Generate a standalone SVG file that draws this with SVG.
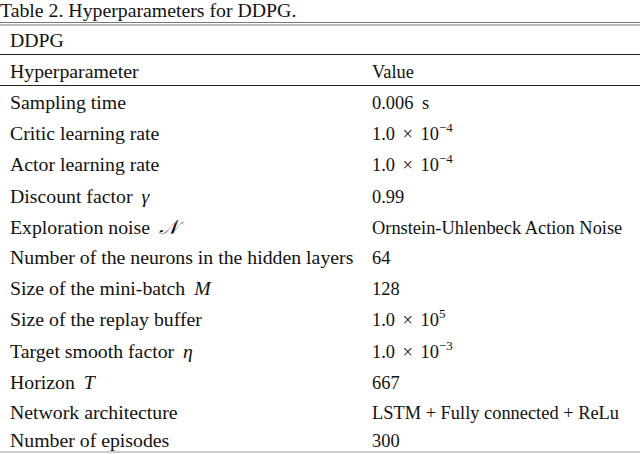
<svg xmlns="http://www.w3.org/2000/svg" width="640" height="454" viewBox="0 0 640 454">
<style>
text{font-family:"Liberation Serif","Times New Roman",serif;font-size:19.8px;fill:#111}
.v{font-size:18.4px}
.m{font-style:italic}
line{stroke:#222}
</style>
<rect width="640" height="454" fill="#fff"/>
<g id="rules">
<line x1="0" y1="22.5" x2="640" y2="22.5" stroke-width="1.2" style="stroke:#777"/>
<line x1="0" y1="25" x2="640" y2="25" stroke-width="1.2" style="stroke:#777"/>
<line x1="0" y1="54.5" x2="640" y2="54.5" stroke-width="1"/>
<line x1="0" y1="85.5" x2="640" y2="85.5" stroke-width="1"/>
<line x1="0" y1="452" x2="640" y2="452" stroke-width="1" style="stroke:#999"/>
</g>
<g id="title"><text x="0" y="17">Table 2. Hyperparameters for DDPG.</text></g>
<g id="header">
<text x="10" y="47">DDPG</text>
<text x="10" y="78">Hyperparameter</text>
<text class="v" x="372" y="78">Value</text>
</g>
<g id="rows">
<text x="10" y="109">Sampling time</text><text class="v" x="372" y="109">0.006 <tspan dx="4">s</tspan></text>
<text x="10" y="140">Critic learning rate</text><text class="v" x="372" y="140">1.0 <tspan dx="3">×</tspan> <tspan dx="3">10</tspan><tspan dy="-8" font-size="13">−4</tspan></text>
<text x="10" y="171">Actor learning rate</text><text class="v" x="372" y="171">1.0 <tspan dx="3">×</tspan> <tspan dx="3">10</tspan><tspan dy="-8" font-size="13">−4</tspan></text>
<text x="10" y="203">Discount factor <tspan class="m" dx="4">γ</tspan></text><text class="v" x="372" y="203">0.99</text>
<text x="10" y="234">Exploration noise <tspan class="m" dx="4">𝒩</tspan></text><text class="v" x="372" y="234">Ornstein-Uhlenbeck Action Noise</text>
<text x="10" y="264">Number of the neurons in the hidden layers</text><text class="v" x="372" y="264">64</text>
<text x="10" y="295">Size of the mini-batch <tspan class="m" dx="4">M</tspan></text><text class="v" x="372" y="295">128</text>
<text x="10" y="326">Size of the replay buffer</text><text class="v" x="372" y="326">1.0 <tspan dx="3">×</tspan> <tspan dx="3">10</tspan><tspan dy="-8" font-size="13">5</tspan></text>
<text x="10" y="358">Target smooth factor <tspan class="m" dx="4">η</tspan></text><text class="v" x="372" y="358">1.0 <tspan dx="3">×</tspan> <tspan dx="3">10</tspan><tspan dy="-8" font-size="13">−3</tspan></text>
<text x="10" y="389">Horizon <tspan class="m" dx="4">T</tspan></text><text class="v" x="372" y="389">667</text>
<text x="10" y="419">Network architecture</text><text class="v" x="372" y="419">LSTM + Fully connected + ReLu</text>
<text x="10" y="447">Number of episodes</text><text class="v" x="372" y="447">300</text>
</g>
</svg>
